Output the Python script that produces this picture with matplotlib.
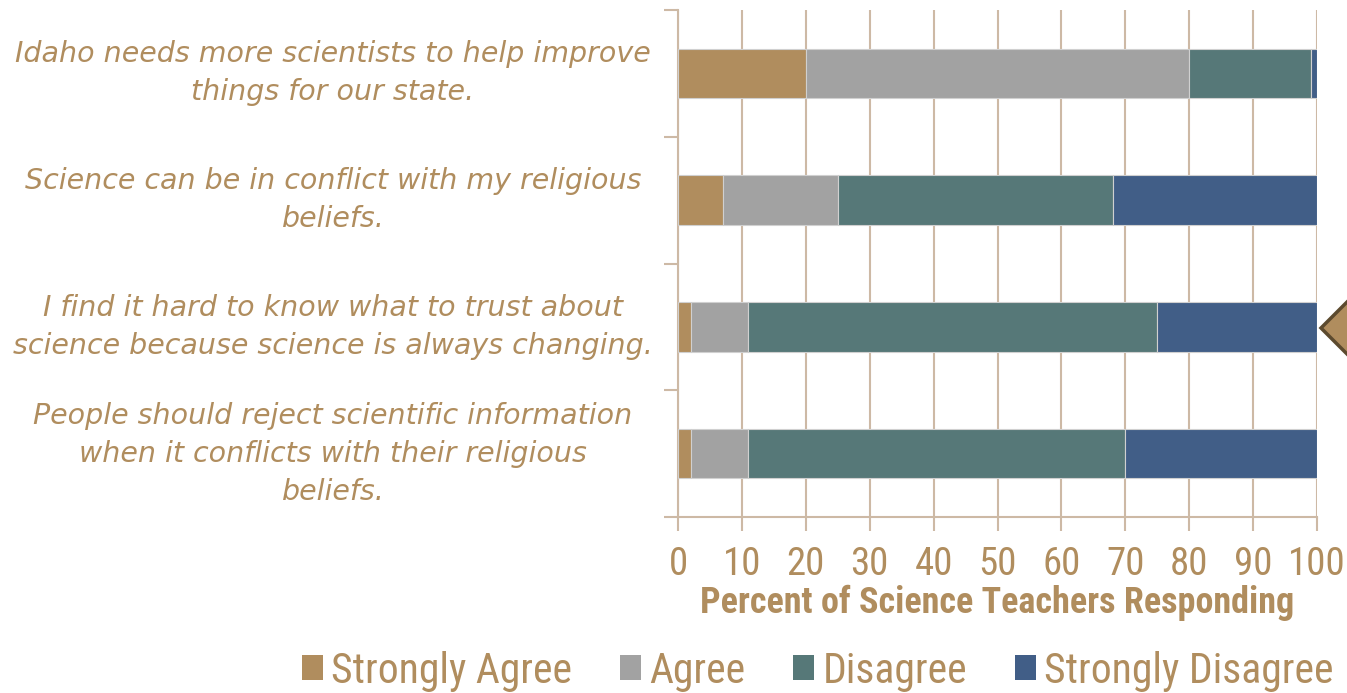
import matplotlib
matplotlib.use("Agg")
import matplotlib.pyplot as plt
from matplotlib.patches import Polygon, Patch
from matplotlib import font_manager
import numpy as np

categories = [
    "Idaho needs more scientists to help improve\nthings for our state.",
    "Science can be in conflict with my religious\nbeliefs.",
    "I find it hard to know what to trust about\nscience because science is always changing.",
    "People should reject scientific information\nwhen it conflicts with their religious\nbeliefs.",
]
series_names = ["Strongly Agree", "Agree", "Disagree", "Strongly Disagree"]
strongly_agree = [20, 7, 2, 2]
agree = [60, 18, 9, 9]
disagree = [19, 43, 64, 59]
strongly_disagree = [1, 32, 25, 30]
x_ticks = [0, 10, 20, 30, 40, 50, 60, 70, 80, 90, 100]
x_label = "Percent of Science Teachers Responding"

colors = ["#b08d5e", "#a2a2a2", "#567878", "#415e87"]
text_color = "#b08d5e"
grid_color = "#cdb9a5"

available = {f.name for f in font_manager.fontManager.ttflist}
narrow_font = None
for cand in ["Liberation Sans Narrow", "Roboto Condensed", "DejaVu Sans Condensed",
             "Open Sans Condensed", "Noto Sans Condensed", "Noto Sans Display Condensed",
             "Arial Narrow", "Noto Sans ExtraCondensed"]:
    if cand in available:
        narrow_font = cand
        break
if narrow_font is not None:
    narrow = [narrow_font, "DejaVu Sans"]
    tick_fs, leg_fs, lab_fs = 28, 30, 26
else:
    narrow = ["DejaVu Sans"]
    tick_fs, leg_fs, lab_fs = 21, 21, 18

W, H = 1347, 693
fig = plt.figure(figsize=(W / 100, H / 100), dpi=100)
ax = fig.add_axes([678 / W, 1 - 517 / H, (1317 - 678) / W, (517 - 10) / H])

y = np.arange(len(categories))
left = np.zeros(len(categories))
for vals, c, name in zip([strongly_agree, agree, disagree, strongly_disagree], colors, series_names):
    ax.barh(y, vals, left=left, height=0.39, color=c, edgecolor="#d0d0d0", linewidth=0.8, label=name, zorder=3)
    left += np.array(vals)

ax.set_xlim(0, 100)
ax.set_ylim(len(categories) - 0.5, -0.5)
ax.set_xticks(x_ticks)
ax.set_xticklabels([str(t) for t in x_ticks], family=narrow, fontsize=tick_fs, color=text_color)
ax.set_yticks(np.arange(-0.5, len(categories), 1.0))
ax.set_yticklabels([])
ax.tick_params(axis="y", length=10, width=1.5, color=grid_color, direction="out")
ax.tick_params(axis="x", length=10, width=1.5, color=grid_color, direction="out", pad=11)
ax.grid(axis="x", color=grid_color, linewidth=1.5, zorder=0)
ax.set_axisbelow(True)
for s in ["top", "right"]:
    ax.spines[s].set_visible(False)
for s in ["left", "bottom"]:
    ax.spines[s].set_color(grid_color)
    ax.spines[s].set_linewidth(1.5)
ax.set_xlabel(x_label, family=narrow, fontsize=lab_fs, fontweight="semibold", color=text_color, labelpad=1)

for yi, cat in zip(y, categories):
    ax.text(-0.54, yi, cat, transform=ax.get_yaxis_transform(), ha="center", va="center",
            multialignment="center", fontsize=20.5, style="italic", color=text_color,
            family="DejaVu Sans", linespacing=1.45)

# decorative pointer at right edge
fig.patches.append(Polygon([[1349 / W, 1 - 300 / H], [1321 / W, 1 - 328 / H], [1349 / W, 1 - 356 / H]],
                           closed=True, transform=fig.transFigure, facecolor="#b08d5e",
                           edgecolor="#5c4a2e", linewidth=2.5, figure=fig))

handles = [Patch(facecolor=c, edgecolor="none") for c in colors]
fig.legend(handles, series_names, loc="center", bbox_to_anchor=(818 / W, 1 - 671 / H), ncol=4,
           frameon=False, prop={"family": narrow, "size": leg_fs}, labelcolor=text_color,
           handlelength=0.5, handleheight=0.55, handletextpad=0.2, columnspacing=1.15)

fig.savefig("out.png", dpi=100)
